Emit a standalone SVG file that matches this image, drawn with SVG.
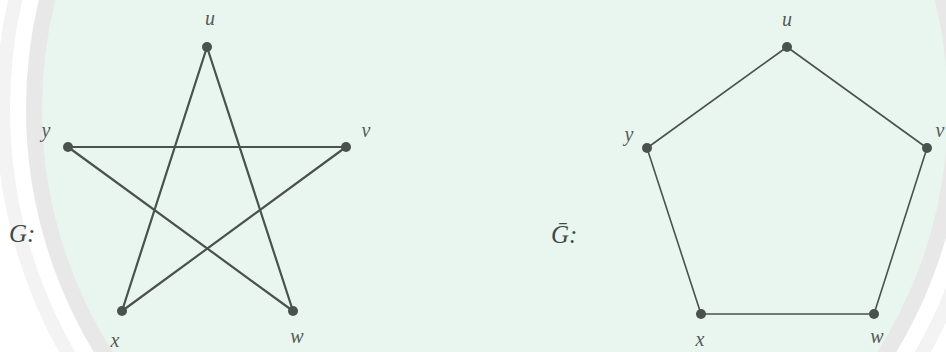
<svg xmlns="http://www.w3.org/2000/svg" width="946" height="352" viewBox="0 0 946 352">
<style>
.edgeL{stroke:#4a524e;stroke-width:2.2;fill:none;stroke-linecap:round}
.edgeR{stroke:#4a524e;stroke-width:1.6;fill:none;stroke-linecap:round}
.dot{fill:#4a524e}
.lbl{font-family:"Liberation Serif","DejaVu Serif",serif;font-style:italic;font-size:20px;fill:#555b58;text-anchor:middle}
.gname{font-family:"Liberation Serif","DejaVu Serif",serif;font-style:italic;font-size:25px;fill:#3f4a45}
</style>
<rect width="946" height="352" fill="#ffffff"/>
<g id="watermark">
<circle cx="495" cy="109" r="492" fill="none" stroke="#f3f3f3" stroke-width="14"/>
<circle cx="495" cy="109" r="461" fill="#e9f5ef" stroke="#e8e8e8" stroke-width="16"/>
</g>
<g id="connectors">
<line class="edgeL" x1="207" y1="47" x2="122" y2="311"/>
<line class="edgeL" x1="207" y1="47" x2="293" y2="311"/>
<line class="edgeL" x1="68" y1="147" x2="346" y2="147"/>
<line class="edgeL" x1="68" y1="147" x2="293" y2="311"/>
<line class="edgeL" x1="346" y1="147" x2="122" y2="311"/>
<line class="edgeR" x1="787" y1="47" x2="927" y2="148"/>
<line class="edgeR" x1="927" y1="148" x2="874" y2="314"/>
<line class="edgeR" x1="874" y1="314" x2="701" y2="314"/>
<line class="edgeR" x1="701" y1="314" x2="647" y2="148"/>
<line class="edgeR" x1="647" y1="148" x2="787" y2="47"/>
</g>
<g id="G-label"><text class="gname" x="9" y="242">G:</text></g>
<g id="L-u"><circle class="dot" cx="207" cy="47" r="5"/><text class="lbl" x="210" y="25">u</text></g>
<g id="L-v"><circle class="dot" cx="346" cy="147" r="5"/><text class="lbl" x="366" y="137">v</text></g>
<g id="L-w"><circle class="dot" cx="293" cy="311" r="5"/><text class="lbl" x="297" y="343">w</text></g>
<g id="L-x"><circle class="dot" cx="122" cy="311" r="5"/><text class="lbl" x="115" y="347">x</text></g>
<g id="L-y"><circle class="dot" cx="68" cy="147" r="5"/><text class="lbl" x="46" y="137">y</text></g>
<g id="Gbar-label"><text class="gname" x="551" y="243">Ḡ:</text></g>
<g id="R-u"><circle class="dot" cx="787" cy="47" r="5"/><text class="lbl" x="787" y="26">u</text></g>
<g id="R-v"><circle class="dot" cx="927" cy="148" r="5"/><text class="lbl" x="940" y="137">v</text></g>
<g id="R-w"><circle class="dot" cx="874" cy="314" r="5"/><text class="lbl" x="877" y="343">w</text></g>
<g id="R-x"><circle class="dot" cx="701" cy="314" r="5"/><text class="lbl" x="700" y="346">x</text></g>
<g id="R-y"><circle class="dot" cx="647" cy="148" r="5"/><text class="lbl" x="629" y="141">y</text></g>
</svg>
